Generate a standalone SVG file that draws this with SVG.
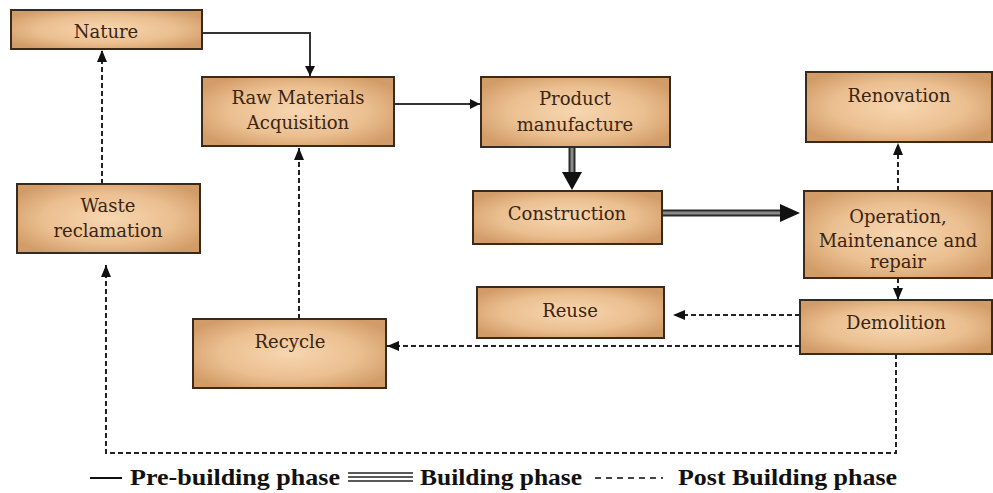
<svg xmlns="http://www.w3.org/2000/svg" width="993" height="493" viewBox="0 0 993 493">
<defs>
<radialGradient id="tan" cx="50%" cy="50%" r="60%">
<stop offset="0" stop-color="#f7d6b0"/>
<stop offset="0.6" stop-color="#ebbf90"/>
<stop offset="1" stop-color="#d29c68"/>
</radialGradient>
<marker id="ah" viewBox="0 0 10 10" refX="10" refY="5" markerWidth="10" markerHeight="10" markerUnits="userSpaceOnUse" orient="auto">
<path d="M0,0 L10,5 L0,10 Z" fill="#111"/>
</marker>
<marker id="ahd" viewBox="0 0 12 10" refX="12" refY="5" markerWidth="12" markerHeight="11" markerUnits="userSpaceOnUse" orient="auto">
<path d="M0,0 L12,5 L0,10 Z" fill="#111"/>
</marker>
</defs>
<style>
.box{fill:url(#tan);stroke:#3a2a1c;stroke-width:2}
.lbl{font-family:"DejaVu Serif","Liberation Serif",serif;font-size:18px;fill:#3a2412;text-anchor:middle}
.solid{fill:none;stroke:#333;stroke-width:2}
.dash{fill:none;stroke:#222;stroke-width:2;stroke-dasharray:5 3}
.dbo{fill:none;stroke:#2a2a2a;stroke-width:7}
.dbi{fill:none;stroke:#8a8a8a;stroke-width:3}
.leg{font-family:"Liberation Serif",serif;font-weight:bold;font-size:24px;fill:#111}
</style>
<rect width="993" height="493" fill="#fff"/>

<g id="connectors">
<path class="solid" d="M202,33 H310 V76" marker-end="url(#ah)"/>
<path class="solid" d="M394,104 H480" marker-end="url(#ah)"/>
<path class="dbo" d="M572,147 V174"/>
<path class="dbi" d="M572,147 V174"/>
<polygon points="562,172 582,172 572,190" fill="#111"/>
<path class="dbo" d="M662,213 H782"/>
<path class="dbi" d="M662,213 H782"/>
<polygon points="780,204 780,222 800,213" fill="#111"/>
<path class="dash" d="M898,191 V143" marker-end="url(#ahd)"/>
<path class="dash" d="M898,278 V300" marker-end="url(#ahd)"/>
<path class="dash" d="M800,315 H673" marker-end="url(#ahd)"/>
<path class="dash" d="M800,346 H387" marker-end="url(#ahd)"/>
<path class="dash" d="M896,354 V453 H106 V265" marker-end="url(#ahd)"/>
<path class="dash" d="M102,184 V50" marker-end="url(#ahd)"/>
<path class="dash" d="M299,319 V148" marker-end="url(#ahd)"/>
</g>

<g id="nature"><rect class="box" x="11" y="10" width="191" height="39"/><text class="lbl" x="106" y="38">Nature</text></g>
<g id="raw"><rect class="box" x="202" y="77" width="192" height="69"/><text class="lbl" x="298" y="104">Raw Materials</text><text class="lbl" x="298" y="129">Acquisition</text></g>
<g id="product"><rect class="box" x="481" y="77" width="189" height="70"/><text class="lbl" x="575" y="105">Product</text><text class="lbl" x="575" y="131">manufacture</text></g>
<g id="construction"><rect class="box" x="473" y="191" width="189" height="53"/><text class="lbl" x="567" y="220">Construction</text></g>
<g id="renovation"><rect class="box" x="806" y="72" width="186" height="70"/><text class="lbl" x="899" y="102">Renovation</text></g>
<g id="operation"><rect class="box" x="804" y="191" width="188" height="87"/><text class="lbl" x="898" y="223">Operation,</text><text class="lbl" x="898" y="247">Maintenance and</text><text class="lbl" x="898" y="268">repair</text></g>
<g id="waste"><rect class="box" x="17" y="184" width="183" height="69"/><text class="lbl" x="108" y="212">Waste</text><text class="lbl" x="108" y="237">reclamation</text></g>
<g id="recycle"><rect class="box" x="193" y="319" width="193" height="69"/><text class="lbl" x="290" y="348">Recycle</text></g>
<g id="reuse"><rect class="box" x="477" y="287" width="187" height="51"/><text class="lbl" x="570" y="317">Reuse</text></g>
<g id="demolition"><rect class="box" x="800" y="300" width="192" height="54"/><text class="lbl" x="896" y="329">Demolition</text></g>

<g id="legend">
<line x1="90" y1="478" x2="122" y2="478" stroke="#111" stroke-width="2"/>
<text class="leg" x="130" y="485" textLength="210" lengthAdjust="spacingAndGlyphs">Pre-building phase</text>
<line x1="348" y1="473" x2="413" y2="473" stroke="#222" stroke-width="1.5"/>
<line x1="348" y1="477" x2="413" y2="477" stroke="#222" stroke-width="1.5"/>
<line x1="348" y1="481" x2="413" y2="481" stroke="#222" stroke-width="1.5"/>
<text class="leg" x="420" y="485" textLength="162" lengthAdjust="spacingAndGlyphs">Building phase</text>
<line x1="595" y1="478" x2="663" y2="478" stroke="#444" stroke-width="2" stroke-dasharray="6 5"/>
<text class="leg" x="678" y="485" textLength="219" lengthAdjust="spacingAndGlyphs">Post Building phase</text>
</g>
</svg>
